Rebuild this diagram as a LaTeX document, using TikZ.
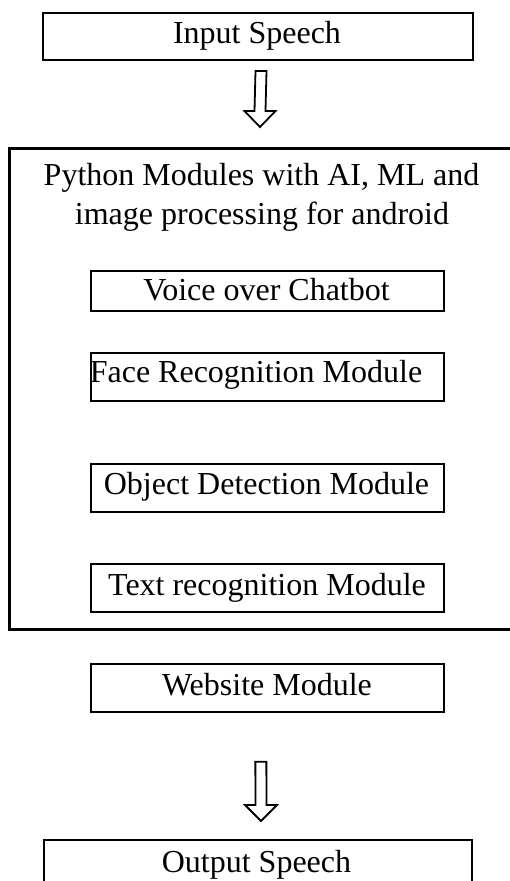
\documentclass[tikz,border=0pt]{standalone}
\usepackage{fontspec}
\setmainfont{Liberation Serif}
\usetikzlibrary{calc}
\begin{document}
\begin{tikzpicture}[x=1pt,y=-1pt,
  box/.style={draw,line width=1.7pt,inner sep=0pt,anchor=north west},
  lbl/.style={font=\fontsize{32}{40}\selectfont,inner sep=0pt,anchor=base},
  blk/.style={draw,line width=1.8pt,fill=white,line join=miter}]
\useasboundingbox (0,0) rectangle (510,881);
\clip (0,0) rectangle (510,881);
% boxes
\node[box,line width=2pt,minimum width=430pt,minimum height=47pt] (inp) at (42,12) {};
\node[box,line width=2.6pt,minimum width=512pt,minimum height=481pt] (pym) at (8,147) {};
\node[box,minimum width=353pt,minimum height=40pt] (voice) at (90,270) {};
\node[box,minimum width=353pt,minimum height=48pt] (face) at (90,352) {};
\node[box,minimum width=353pt,minimum height=48pt] (obj) at (90,463) {};
\node[box,minimum width=353pt,minimum height=48pt] (txt) at (90,563) {};
\node[box,minimum width=353pt,minimum height=48pt] (web) at (90,663) {};
\node[box,line width=2pt,minimum width=428pt,minimum height=60pt] (out) at (43,839) {};
% labels
\node[lbl] (inpl) at (257,43) {Input Speech};
\node[lbl] (pyl1) at (261.5,185) {Python Modules with AI, ML and};
\node[lbl] (pyl2) at (262,224) {image processing for android};
\node[lbl] (voicel) at (266.5,300) {Voice over Chatbot};
\node[lbl] (facel) at (256,382) {Face Recognition Module};
\node[lbl] (objl) at (266.5,494) {Object Detection Module};
\node[lbl] (txtl) at (267,595) {Text recognition Module};
\node[lbl] (webl) at (267,695) {Website Module};
\node[lbl] (outl) at (256.5,872) {Output Speech};
% block arrows
\coordinate (a1s) at ($(inp.south)+(3,10)$);
\coordinate (a1t) at ($(pym.north west)+(252,-20)$);
\coordinate (a2s) at ($(web.south)+(-6.5,49)$);
\coordinate (a2t) at ($(out.north)+(3,-18)$);
\draw[blk] ($(a1s)+(-5.5,0)$) -- ($(a1t)+(-5.5,-16)$) -- ($(a1t)+(-15.5,-16)$) -- (a1t)
  -- ($(a1t)+(15.5,-16)$) -- ($(a1t)+(5.5,-16)$) -- ($(a1s)+(5.5,0)$) -- cycle;
\draw[blk] ($(a2s)+(-5.5,0)$) -- ($(a2t)+(-5.5,-16)$) -- ($(a2t)+(-16,-16)$) -- (a2t)
  -- ($(a2t)+(16,-16)$) -- ($(a2t)+(5.5,-16)$) -- ($(a2s)+(5.5,0)$) -- cycle;
\end{tikzpicture}
\end{document}
